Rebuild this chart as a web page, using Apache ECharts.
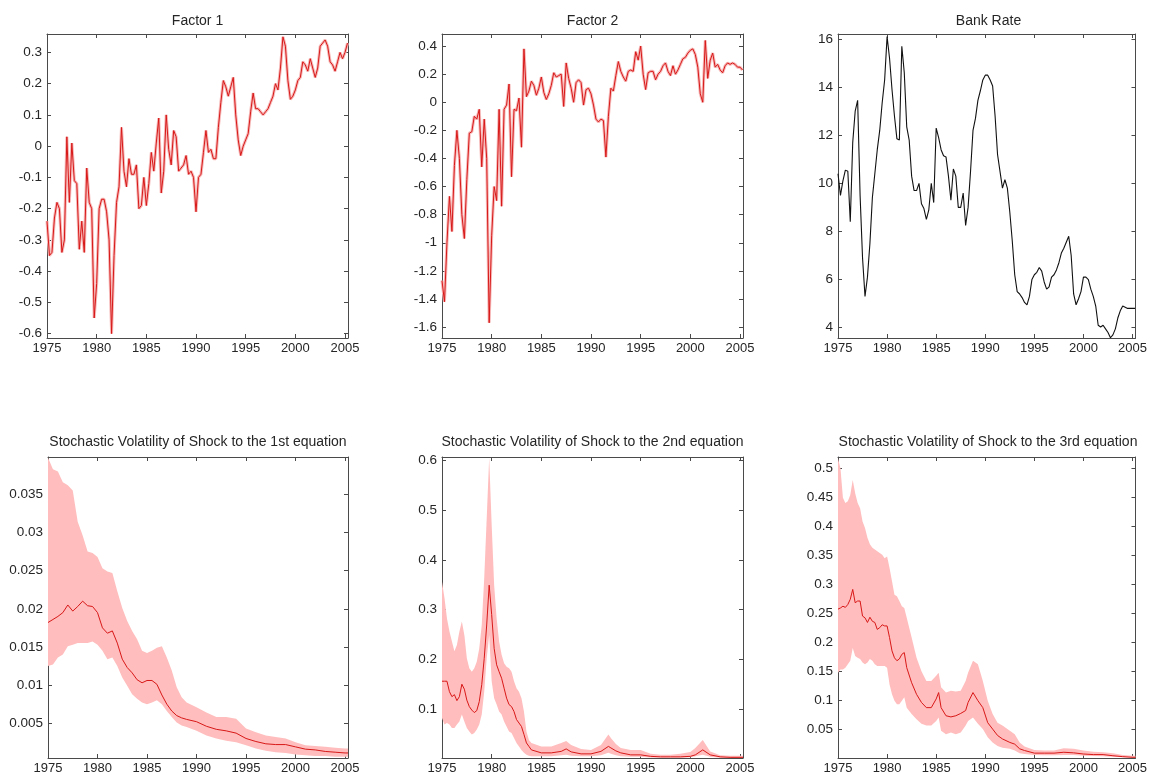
<!DOCTYPE html>
<html><head><meta charset="utf-8">
<script src="https://cdn.jsdelivr.net/npm/echarts@6/dist/echarts.min.js"></script>
<style>html,body{margin:0;padding:0;background:#fff}#c{width:1150px;height:775px}</style>
</head><body><div id="c"></div>
<script>
// ---------- time index & tick labels ----------
const startYear = 1975, quarterStep = 0.25;
const xMin = 1975, xMax = 2005.3;
const xTicks = [1975, 1980, 1985, 1990, 1995, 2000, 2005];

const titles = ['Factor 1', 'Factor 2', 'Bank Rate',
  'Stochastic Volatility of Shock to the 1st equation',
  'Stochastic Volatility of Shock to the 2nd equation',
  'Stochastic Volatility of Shock to the 3rd equation'];

const f1Ticks = [-0.6, -0.5, -0.4, -0.3, -0.2, -0.1, 0, 0.1, 0.2, 0.3];
const f2Ticks = [-1.6, -1.4, -1.2, -1, -0.8, -0.6, -0.4, -0.2, 0, 0.2, 0.4];
const bankTicks = [4, 6, 8, 10, 12, 14, 16];
const vol1Ticks = [0.005, 0.01, 0.015, 0.02, 0.025, 0.03, 0.035];
const vol2Ticks = [0.1, 0.2, 0.3, 0.4, 0.5, 0.6];
const vol3Ticks = [0.05, 0.1, 0.15, 0.2, 0.25, 0.3, 0.35, 0.4, 0.45, 0.5];

// ---------- quarterly series (1975Q1 .. 2005Q2) ----------
const factor1 = [
 -0.24,-0.35,-0.34,-0.23,-0.18,-0.2,-0.34,-0.3,0.03,-0.18,
 0.01,-0.11,-0.12,-0.33,-0.24,-0.34,-0.07,-0.18,-0.2,-0.55,
 -0.44,-0.2,-0.17,-0.17,-0.21,-0.3,-0.6,-0.35,-0.18,-0.13,
 0.06,-0.08,-0.13,-0.04,-0.09,-0.09,-0.06,-0.2,-0.19,-0.1,
 -0.19,-0.12,-0.02,-0.08,0.01,0.09,-0.15,-0.08,0.1,-0.01,
 -0.06,0.05,0.03,-0.08,-0.07,-0.06,-0.03,-0.09,-0.08,-0.1,
 -0.21,-0.1,-0.09,-0.02,0.05,-0.02,-0.01,-0.04,-0.04,0.06,
 0.14,0.21,0.19,0.16,0.19,0.22,0.1,0.02,-0.03,0.0,
 0.02,0.04,0.11,0.17,0.12,0.12,0.11,0.1,0.11,0.12,
 0.14,0.16,0.2,0.18,0.25,0.35,0.32,0.21,0.15,0.16,
 0.18,0.21,0.22,0.27,0.26,0.24,0.28,0.25,0.22,0.25,
 0.32,0.33,0.34,0.32,0.27,0.26,0.24,0.27,0.3,0.28,
 0.3,0.33];
const factor2 = [
 -1.27,-1.42,-1.0,-0.67,-0.92,-0.45,-0.2,-0.4,-0.8,-0.97,
 -0.55,-0.22,-0.21,-0.1,-0.12,-0.05,-0.46,-0.12,-0.4,-1.57,
 -0.95,-0.6,-0.7,-0.05,-0.74,-0.05,-0.02,0.13,-0.53,-0.05,
 -0.06,0.03,-0.32,0.38,0.04,0.08,0.15,0.12,0.05,0.1,
 0.18,0.07,0.02,0.06,0.12,0.21,0.18,0.19,0.2,-0.03,
 0.28,0.17,0.1,0.0,0.14,0.16,0.14,-0.02,0.09,0.1,
 0.06,-0.02,-0.12,-0.14,-0.12,-0.13,-0.39,-0.1,0.1,0.08,
 0.19,0.29,0.22,0.18,0.15,0.22,0.23,0.22,0.36,0.3,
 0.4,0.2,0.09,0.21,0.22,0.22,0.16,0.2,0.22,0.26,
 0.28,0.22,0.19,0.26,0.2,0.23,0.27,0.31,0.32,0.35,
 0.37,0.38,0.34,0.25,0.06,0.0,0.44,0.17,0.3,0.35,
 0.25,0.27,0.23,0.21,0.26,0.28,0.27,0.28,0.27,0.25,
 0.25,0.23];
const bankRate = [
 10.4,9.5,10.1,10.55,10.5,8.4,11.7,13.0,13.45,9.5,
 6.9,5.3,6.1,7.5,9.4,10.4,11.4,12.2,13.35,14.3,
 16.1,15.2,13.9,12.8,11.85,11.8,15.7,14.6,12.35,11.8,
 10.3,9.7,9.7,10.0,9.15,8.95,8.5,8.9,10.0,9.2,
 12.3,11.9,11.4,11.15,11.1,10.3,9.3,10.6,10.3,9.0,
 9.0,9.6,8.25,9.0,10.5,12.2,12.7,13.45,13.85,14.3,
 14.5,14.5,14.3,14.05,12.8,11.2,10.5,9.8,10.15,9.8,
 8.8,7.6,6.2,5.5,5.4,5.25,5.05,4.95,5.3,6.0,
 6.2,6.3,6.5,6.35,5.9,5.6,5.7,6.1,6.2,6.4,
 6.7,7.1,7.3,7.55,7.8,7.0,5.4,4.95,5.2,5.5,
 6.1,6.1,6.0,5.6,5.3,4.9,4.1,4.03,4.1,3.95,
 3.8,3.58,3.7,3.95,4.4,4.7,4.9,4.85,4.8,4.8,
 4.8,4.8];

// ---------- stochastic volatility: median and band ----------
const vol1Years = [1975,1975.5,1976,1976.5,1977,1977.5,1978,1978.5,1979,1979.5,
 1980,1980.5,1981,1981.5,1982,1982.5,1983,1983.5,1984,1984.5,
 1985,1985.5,1986,1986.5,1987,1987.5,1988,1988.5,1989,1990,
 1991,1992,1993,1994,1995,1996,1997,1998,1999,2000,
 2001,2002,2003,2004,2005,2005.3];
const vol1Med = [0.0182,0.0186,0.019,0.0195,0.0205,0.0197,0.0203,0.021,0.0204,0.0203,
 0.0195,0.0175,0.0168,0.0171,0.0155,0.0134,0.0123,0.0116,0.0107,0.0103,
 0.0106,0.0106,0.0101,0.0087,0.0075,0.0066,0.006,0.0057,0.0055,0.0052,
 0.0046,0.0042,0.004,0.0037,0.003,0.0026,0.0023,0.0022,0.0022,0.0019,
 0.0016,0.0015,0.0013,0.0012,0.0011,0.0011];
const vol1Hi = [0.0398,0.0383,0.038,0.0366,0.0362,0.0355,0.0314,0.0296,0.0275,0.0273,
 0.0268,0.0253,0.0249,0.0247,0.0223,0.0201,0.0184,0.0171,0.016,0.0145,
 0.0142,0.0145,0.0149,0.0151,0.0136,0.0119,0.0097,0.0084,0.0077,0.0071,
 0.0064,0.0058,0.0058,0.0056,0.0043,0.0038,0.0034,0.0032,0.003,0.0025,
 0.0021,0.002,0.0019,0.0018,0.0017,0.0017];
const vol1Lo = [0.0125,0.0127,0.0136,0.014,0.0151,0.0153,0.0155,0.0155,0.0155,0.0157,
 0.0153,0.0145,0.0134,0.0136,0.0125,0.011,0.0099,0.0088,0.0082,0.0077,
 0.0075,0.0077,0.008,0.0075,0.0066,0.0058,0.0051,0.0047,0.0045,0.004,
 0.0034,0.003,0.0027,0.0025,0.0021,0.0017,0.0014,0.0012,0.0011,0.0009,
 0.0008,0.0007,0.0007,0.0006,0.0006,0.0006];

const vol2Years = [1975,1975.25,1975.5,1975.75,1976,1976.25,1976.5,1976.75,1977,1977.25,
 1977.5,1977.75,1978,1978.25,1978.5,1978.75,1979,1979.25,1979.5,1979.75,
 1980,1980.25,1980.5,1980.75,1981,1981.25,1981.5,1981.75,1982,1982.25,
 1982.5,1982.75,1983,1983.25,1983.5,1983.75,1984,
 1985,1986,1987,1987.5,1988,1989,1990,1991,1991.75,1992,
 1992.5,1993,1994,1995,1996,1997,1998,1999,2000,2000.5,
 2001.25,2002,2003,2004,2005,2005.3];
const vol2Med = [0.156,0.156,0.156,0.135,0.125,0.129,0.117,0.125,0.15,0.14,
 0.118,0.105,0.098,0.093,0.097,0.115,0.149,0.202,0.269,0.349,
 0.29,0.222,0.189,0.175,0.162,0.142,0.122,0.109,0.105,0.095,
 0.079,0.072,0.065,0.049,0.032,0.025,0.018,
 0.012,0.012,0.015,0.02,0.014,0.01,0.01,0.015,0.025,0.022,
 0.016,0.012,0.008,0.008,0.005,0.004,0.004,0.004,0.005,0.008,
 0.018,0.008,0.004,0.003,0.003,0.003];
const vol2Hi = [0.356,0.323,0.282,0.256,0.236,0.216,0.229,0.256,0.276,0.249,
 0.202,0.182,0.175,0.182,0.195,0.222,0.269,0.363,0.483,0.605,
 0.47,0.349,0.282,0.236,0.209,0.192,0.185,0.182,0.175,0.156,
 0.142,0.135,0.122,0.095,0.055,0.038,0.032,
 0.025,0.025,0.032,0.036,0.028,0.02,0.018,0.028,0.049,0.042,
 0.03,0.022,0.018,0.018,0.01,0.008,0.008,0.01,0.014,0.022,
 0.038,0.015,0.007,0.006,0.006,0.006];
const vol2Lo = [0.082,0.069,0.072,0.069,0.062,0.062,0.069,0.075,0.089,0.075,
 0.062,0.055,0.049,0.052,0.059,0.069,0.089,0.135,0.202,0.249,
 0.156,0.122,0.109,0.095,0.089,0.075,0.065,0.055,0.052,0.042,
 0.032,0.025,0.018,0.012,0.008,0.006,0.005,
 0.005,0.005,0.007,0.008,0.006,0.005,0.005,0.007,0.012,0.01,
 0.007,0.005,0.004,0.004,0.0025,0.0022,0.0022,0.0022,0.003,0.005,
 0.008,0.004,0.002,0.002,0.002,0.002];

const vol3Years = [1975,1975.25,1975.5,1975.75,1976,1976.25,1976.5,1976.75,1977,1977.25,
 1977.5,1977.75,1978,1978.25,1978.5,1978.75,1979,1979.25,1979.5,1979.75,
 1980,1980.25,1980.5,1980.75,1981,1981.25,1981.5,1981.75,1982,
 1982.5,1983,1983.5,1984,1984.5,1985,1985.25,1985.5,1986,1986.5,
 1987,1987.5,1988,1988.25,1988.75,1989.25,1989.75,1990.25,1990.75,1991.25,
 1991.75,1992.5,1993,1993.5,1994,
 1995,1996,1997,1998,1999,2000,2001,2002,2003,2004,2005,2005.3];
const vol3Med = [0.257,0.259,0.262,0.26,0.265,0.274,0.291,0.268,0.271,0.271,
 0.245,0.242,0.234,0.243,0.236,0.234,0.222,0.225,0.23,0.228,
 0.228,0.208,0.185,0.173,0.168,0.171,0.179,0.182,0.156,
 0.13,0.11,0.096,0.087,0.087,0.102,0.113,0.087,0.073,0.071,
 0.073,0.077,0.082,0.096,0.113,0.099,0.087,0.061,0.05,0.039,
 0.033,0.027,0.024,0.016,0.013,
 0.0085,0.0085,0.0085,0.01,0.009,0.007,0.006,0.006,0.004,0.0024,0.0013,0.0013];
const vol3Hi = [0.517,0.5,0.449,0.44,0.443,0.454,0.48,0.457,0.44,0.431,
 0.408,0.397,0.38,0.369,0.363,0.36,0.357,0.354,0.351,0.345,
 0.348,0.328,0.305,0.282,0.279,0.271,0.262,0.259,0.242,
 0.208,0.173,0.15,0.133,0.133,0.142,0.147,0.122,0.113,0.116,
 0.115,0.116,0.133,0.147,0.168,0.162,0.133,0.099,0.076,0.061,
 0.056,0.047,0.041,0.027,0.02,
 0.014,0.013,0.013,0.017,0.016,0.013,0.011,0.01,0.0085,0.0053,0.004,0.004];
const vol3Lo = [0.147,0.153,0.153,0.156,0.162,0.168,0.19,0.176,0.173,0.171,
 0.165,0.162,0.165,0.171,0.168,0.162,0.159,0.159,0.159,0.159,
 0.156,0.127,0.11,0.099,0.093,0.093,0.099,0.105,0.087,
 0.076,0.067,0.059,0.056,0.056,0.064,0.07,0.047,0.041,0.044,
 0.041,0.044,0.056,0.064,0.07,0.059,0.05,0.036,0.027,0.021,
 0.018,0.016,0.013,0.0085,0.007,
 0.0053,0.0047,0.0047,0.0053,0.0053,0.004,0.0036,0.003,0.0024,0.0013,0.0007,0.0007];

// ---------- checks ----------
function check(name, a, n) { if (a.length !== n) throw new Error(name + ' has ' + a.length + ' values, expected ' + n); }
check('factor2', factor2, factor1.length); check('bankRate', bankRate, factor1.length);
[[vol1Years, vol1Med, vol1Hi, vol1Lo], [vol2Years, vol2Med, vol2Hi, vol2Lo], [vol3Years, vol3Med, vol3Hi, vol3Lo]]
  .forEach((g, k) => { check('vol' + (k+1) + 'Med', g[1], g[0].length); check('vol' + (k+1) + 'Hi', g[2], g[0].length); check('vol' + (k+1) + 'Lo', g[3], g[0].length); });

const quarters = factor1.map((_, i) => startYear + i * quarterStep);
const pairs = (xs, ys) => xs.map((x, i) => [x, ys[i]]);

// ---------- layout / style ----------
const FONT = 'Liberation Sans, Arial, sans-serif';
const AX = '#4a4a4a', TXT = '#262626';
const RED = '#d81818', HALO = '#f7b8b8', BAND = '#ffbdbd';
const grids = [
  {left: 47, top: 34, width: 301, height: 304},
  {left: 442, top: 34, width: 301, height: 304},
  {left: 838, top: 34, width: 301, height: 304},
  {left: 48, top: 457, width: 300, height: 302},
  {left: 442, top: 457, width: 301, height: 301},
  {left: 838, top: 457, width: 300, height: 302}
];
const yRanges = [[-0.614, 0.359], [-1.678, 0.486], [3.57, 16.21], [0.00044, 0.0399], [0.0017, 0.6066], [0.0001, 0.5195]];
const yTicksAll = [f1Ticks, f2Ticks, bankTicks, vol1Ticks, vol2Ticks, vol3Ticks];

const xAxes = [], yAxes = [];
grids.forEach((g, i) => {
  const line = {show: true, onZero: false, lineStyle: {color: AX, width: 1}};
  const tick = vals => ({show: true, inside: true, length: 4, customValues: vals, lineStyle: {color: AX, width: 1}});
  xAxes.push({type: 'value', gridIndex: i, position: 'bottom', min: xMin, max: xMax, axisLine: line,
    axisTick: tick(xTicks), splitLine: {show: false},
    axisLabel: {customValues: xTicks, formatter: v => String(v), margin: 4, fontSize: 13, color: TXT, fontFamily: FONT}});
  xAxes.push({type: 'value', gridIndex: i, position: 'top', min: xMin, max: xMax, axisLine: line,
    axisTick: tick(xTicks), splitLine: {show: false}, axisLabel: {show: false}});
  const [lo, hi] = yRanges[i];
  yAxes.push({type: 'value', gridIndex: i, position: 'left', min: lo, max: hi, axisLine: line,
    axisTick: tick(yTicksAll[i]), splitLine: {show: false},
    axisLabel: {customValues: yTicksAll[i], formatter: v => String(v), margin: 5, fontSize: 13.5, color: TXT, fontFamily: FONT}});
  yAxes.push({type: 'value', gridIndex: i, position: 'right', min: lo, max: hi, axisLine: line,
    axisTick: tick(yTicksAll[i]), splitLine: {show: false}, axisLabel: {show: false}});
});

const series = [];
function lineSeries(i, data, color, width, z) {
  return {type: 'line', xAxisIndex: 2*i, yAxisIndex: 2*i, data, showSymbol: false, symbol: 'none',
    lineStyle: {color, width}, z: z, silent: true};
}
// factor panels: pale halo for the thin credible band, then the red line
[[0, factor1], [1, factor2]].forEach(([i, ys]) => {
  const d = pairs(quarters, ys);
  series.push(lineSeries(i, d, HALO, 3, 2));
  series.push(lineSeries(i, d, RED, 1, 3));
});
series.push(lineSeries(2, pairs(quarters, bankRate), '#111', 1.1, 3));
// volatility panels: shaded band polygon (hi forward, lo backward) then the median line
function bandSeries(i, xs, hi, lo) {
  return {type: 'custom', xAxisIndex: 2*i, yAxisIndex: 2*i, silent: true, z: 1,
    data: [[xs[0], lo[0]]],
    renderItem: (params, api) => {
      const pts = [];
      for (let k = 0; k < xs.length; k++) pts.push(api.coord([xs[k], hi[k]]));
      for (let k = xs.length - 1; k >= 0; k--) pts.push(api.coord([xs[k], lo[k]]));
      return {type: 'polygon', shape: {points: pts}, style: {fill: BAND, stroke: null}};
    }};
}
[[3, vol1Years, vol1Med, vol1Hi, vol1Lo], [4, vol2Years, vol2Med, vol2Hi, vol2Lo], [5, vol3Years, vol3Med, vol3Hi, vol3Lo]]
 .forEach(([i, xs, med, hi, lo]) => {
  series.push(bandSeries(i, xs, hi, lo));
  series.push(lineSeries(i, pairs(xs, med), RED, 1, 3));
});

const title = grids.map((g, i) => ({text: titles[i], left: g.left + g.width / 2, top: i < 3 ? 14 : 435,
  textAlign: 'center', padding: 0,
  textStyle: {fontSize: 14, fontWeight: 'normal', color: TXT, fontFamily: FONT}}));

const chart = echarts.init(document.getElementById('c'), null, {renderer: 'canvas'});
chart.setOption({animation: false, backgroundColor: '#fff', title, grid: grids, xAxis: xAxes, yAxis: yAxes, series});
</script></body></html>
